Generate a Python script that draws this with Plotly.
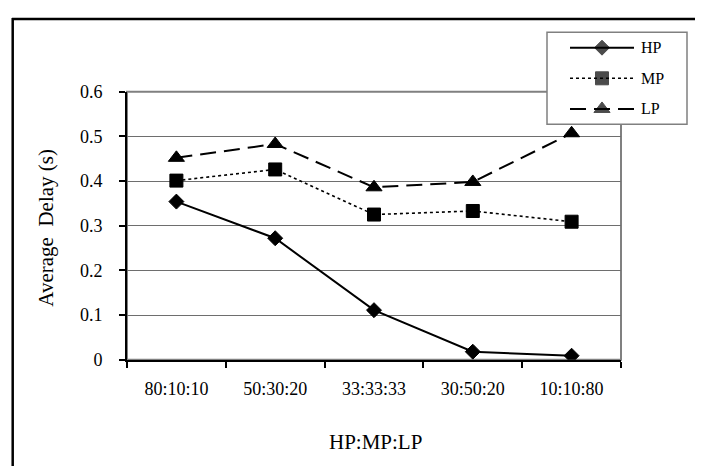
import plotly.graph_objects as go

categories = ["80:10:10", "50:30:20", "33:33:33", "30:50:20", "10:10:80"]
hp = [0.354, 0.272, 0.111, 0.018, 0.009]
mp = [0.401, 0.426, 0.325, 0.333, 0.309]
lp = [0.452, 0.483, 0.386, 0.398, 0.507]
series_names = ["HP", "MP", "LP"]
y_ticks = [0, 0.1, 0.2, 0.3, 0.4, 0.5, 0.6]

W, H = 703, 468
OFF = 8  # page offset of the figure inside the browser window
FONT = "Liberation Serif, Times New Roman, DejaVu Serif, serif"

def px(x):
    return (x - OFF) / W

def py(y):
    return 1 - (y - OFF) / H

styles = {
    "HP": dict(line=dict(color="black", width=2, dash="solid"), symbol="diamond", size=11.5),
    "MP": dict(line=dict(color="black", width=1.6, dash="dot"), symbol="square", size=13),
    "LP": dict(line=dict(color="black", width=2, dash="16px,8px"), symbol="triangle-up", size=14),
}

fig = go.Figure()
for name, vals in zip(series_names, [hp, mp, lp]):
    st = styles[name]
    fig.add_trace(go.Scatter(
        x=categories, y=vals, name=name, mode="lines+markers",
        line=st["line"],
        marker=dict(symbol=st["symbol"], size=st["size"], color="black",
                    line=dict(color="black", width=1)),
        showlegend=False, xaxis="x", yaxis="y",
    ))

# manual legend drawn on a page-pixel overlay axis
leg_rows = [39, 71, 103]
for name, ry in zip(series_names, leg_rows):
    st = styles[name]
    fig.add_trace(go.Scatter(
        x=[570, 602, 634], y=[ry, ry, ry], mode="lines+markers",
        line=st["line"],
        marker=dict(symbol=st["symbol"], size=[0, st["size"], 0], color="black",
                    line=dict(color="black", width=[0, 1, 0])),
        showlegend=False, xaxis="x2", yaxis="y2", hoverinfo="skip",
    ))

plot_l, plot_r, plot_t, plot_b = 127, 621, 85, 365

fig.update_layout(
    width=W, height=H,
    margin=dict(l=0, r=0, t=0, b=0),
    paper_bgcolor="white",
    plot_bgcolor="rgba(0,0,0,0)",
    font=dict(family=FONT, color="black", size=18),
    xaxis=dict(
        domain=[px(plot_l), px(plot_r)], anchor="y",
        type="category", range=[-0.5, 4.5],
        tickson="boundaries", ticks="outside", ticklen=6, tickwidth=1.5, tickcolor="black",
        showline=True, linecolor="black", linewidth=2,
        showgrid=False, zeroline=False,
        tickfont=dict(family=FONT, size=18, color="black"),
        ticklabelstandoff=12,
    ),
    yaxis=dict(
        domain=[py(plot_b), py(plot_t)], anchor="x",
        range=[0, 0.6], tickvals=y_ticks, ticktext=[("%g" % v) for v in y_ticks],
        ticks="outside", ticklen=6, tickwidth=1.5, tickcolor="black",
        showline=True, linecolor="black", linewidth=2,
        showgrid=True, gridcolor="#6e6e6e", gridwidth=1,
        zeroline=False,
        tickfont=dict(family=FONT, size=18, color="black"),
        ticklabelstandoff=13,
    ),
    xaxis2=dict(domain=[0, 1], range=[OFF, W + OFF], anchor="y2", visible=False, fixedrange=True),
    yaxis2=dict(domain=[0, 1], range=[H + OFF, OFF], anchor="x2", visible=False, fixedrange=True),
)

shapes = [
    # gray plot frame
    dict(type="rect", xref="paper", yref="paper", x0=px(plot_l), x1=px(plot_r),
         y0=py(plot_b), y1=py(plot_t), line=dict(color="#808080", width=2), layer="below"),
    # outer chart border (top and left)
    dict(type="line", xref="paper", yref="paper", x0=px(12), x1=1.0, y0=py(9), y1=py(9),
         line=dict(color="black", width=2.5)),
    dict(type="line", xref="paper", yref="paper", x0=px(12.7), x1=px(12.7), y0=py(8), y1=0,
         line=dict(color="black", width=2.5)),
    # legend box
    dict(type="rect", xref="paper", yref="paper", x0=px(547), x1=px(687), y0=py(119), y1=py(23),
         line=dict(color="#808080", width=1.5), fillcolor="white", layer="below"),
]
fig.update_layout(shapes=shapes)

annotations = [
    dict(text="Average  Delay (s)", xref="paper", yref="paper", x=px(46), y=py(227),
         textangle=-90, showarrow=False, font=dict(family=FONT, size=21, color="black"),
         xanchor="center", yanchor="middle"),
    dict(text="HP:MP:LP", xref="paper", yref="paper", x=px(375), y=py(451),
         showarrow=False, font=dict(family=FONT, size=21, color="black"),
         xanchor="center", yanchor="middle"),
]
for name, ry in zip(series_names, leg_rows):
    annotations.append(dict(text=name, xref="paper", yref="paper", x=px(639), y=py(ry),
                            showarrow=False, xanchor="left", yanchor="middle",
                            font=dict(family=FONT, size=16, color="black")))
fig.update_layout(annotations=annotations)

fig.write_html("out.html")
